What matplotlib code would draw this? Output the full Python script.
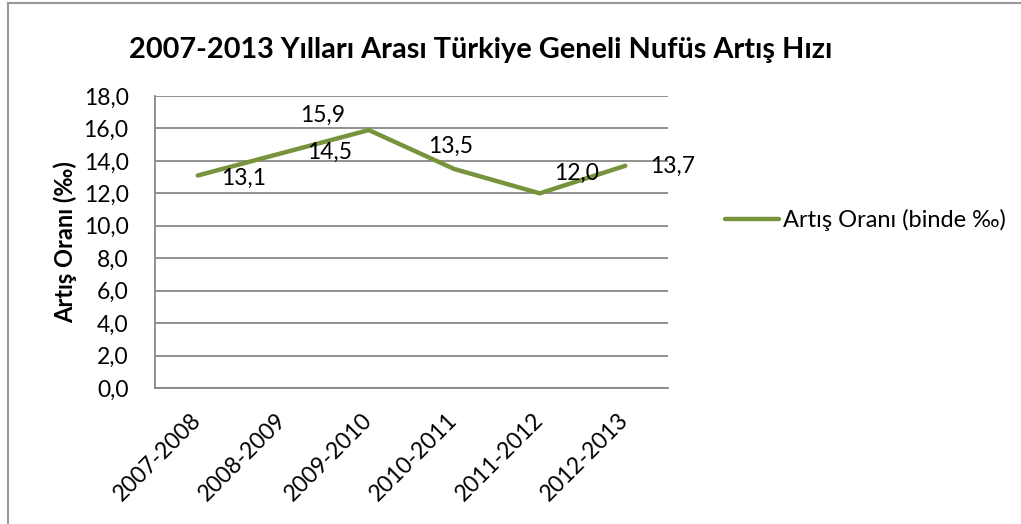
import matplotlib.pyplot as plt
import matplotlib.transforms as mtransforms
from matplotlib.lines import Line2D

plt.rcParams['font.family'] = ['Lato', 'DejaVu Sans']

# data
periods = ['2007-2008', '2008-2009', '2009-2010', '2010-2011', '2011-2012', '2012-2013']
rates = [13.1, 14.5, 15.9, 13.5, 12.0, 13.7]
y_ticks = [0, 2, 4, 6, 8, 10, 12, 14, 16, 18]

# label offsets in pixels (hand placed like the original)
label_offsets = [(46, -3), (46, 0), (-46, 15), (-4, 23), (37, 20), (47, -1)]

green = '#77933C'
grid_gray = '#888888'
fs = 16.5

fig = plt.figure(figsize=(10.21, 5.24), dpi=100)
ax = fig.add_axes([0.1518, 0.2595, 0.5025, 0.5573])

x = list(range(len(periods)))
ax.plot(x, rates, color=green, lw=3.2, solid_capstyle='round', solid_joinstyle='miter')

for i, (v, off) in enumerate(zip(rates, label_offsets)):
    ax.annotate(f'{v:.1f}'.replace('.', ','), (i, v), xytext=(off[0] * 0.72, off[1] * 0.72),
                textcoords='offset points', ha='center', va='center', fontsize=fs)

ax.set_xlim(-0.5, len(periods) - 0.5)
ax.set_ylim(0, 18)
ax.set_yticks(y_ticks)
ax.set_yticklabels([f'{t:.1f}'.replace('.', ',') for t in y_ticks], fontsize=fs)
ax.set_xticks(x)
ax.set_xticklabels(periods, fontsize=fs, rotation=45, ha='right', va='center',
                   rotation_mode='anchor')
shift = mtransforms.ScaledTranslation(7 / 100, 0, fig.dpi_scale_trans)
for lab in ax.get_xticklabels():
    lab.set_transform(lab.get_transform() + shift)
ax.tick_params(axis='both', length=0)
ax.tick_params(axis='y', pad=19)
ax.tick_params(axis='x', pad=20.5)

ax.grid(axis='y', color=grid_gray, lw=1.3)
ax.set_axisbelow(True)
for side in ['top', 'right']:
    ax.spines[side].set_visible(False)
for side in ['left', 'bottom']:
    ax.spines[side].set_color(grid_gray)
    ax.spines[side].set_linewidth(1.3)

ax.set_ylabel('Artış Oranı (‰)', fontsize=17, fontweight='bold', labelpad=5)

fig.text(0.471, 0.905, '2007-2013 Yılları Arası Türkiye Geneli Nufüs Artış Hızı',
         ha='center', va='center', fontsize=20.8, fontweight='bold')

handle = Line2D([], [], color=green, lw=3.2, solid_capstyle='round')
fig.legend([handle], ['Artış Oranı (binde ‰)'], loc='center left',
           bbox_to_anchor=(0.699, 0.58), frameon=False, fontsize=17,
           handlelength=2.25, handletextpad=0.2, borderpad=0)

# chart border (top and left visible)
fig.add_artist(Line2D([0.008, 1.0], [0.995, 0.995], color='#999999', lw=1.5))
fig.add_artist(Line2D([0.008, 0.008], [0.0, 0.995], color='#999999', lw=1.5))

fig.savefig('out.png', dpi=100)
